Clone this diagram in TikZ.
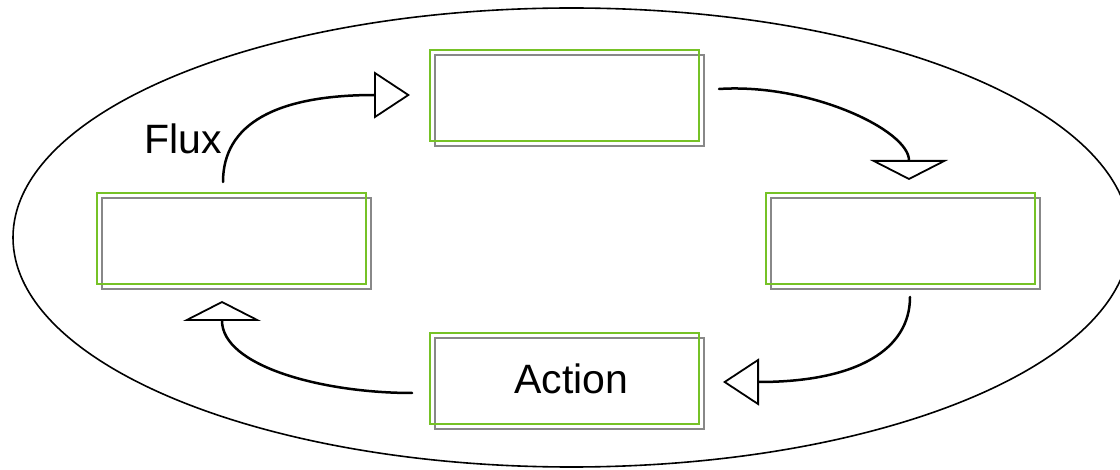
\documentclass[tikz,border=0pt]{standalone}
\usepackage{fontspec}
\setmainfont{Liberation Sans}
\usetikzlibrary{arrows.meta,calc}
\definecolor{boxgreen}{RGB}{118,194,38}
\definecolor{boxgray}{RGB}{136,136,136}
\tikzset{
  framebase/.style={line width=1.8pt, minimum width=269pt, minimum height=91pt, inner sep=0pt},
  stepbox/.style={framebase, draw=boxgreen},
  stepshadow/.style={framebase, draw=boxgray},
  bigtext/.style={font=\fontsize{41}{49}\selectfont, inner sep=0pt},
  flow/.style={line width=2.5pt, line cap=round},
  sidehead/.style={-{Triangle[open, length=36pt, width=47pt, line width=1.8pt]}},
  vertheadd/.style={-{Triangle[open, length=20pt, width=78pt, line width=1.8pt]}},
}
\begin{document}
\begin{tikzpicture}[x=1pt, y=-1pt]
  \useasboundingbox (0,0) rectangle (1120,470);
  \clip (0,0) rectangle (1120,470);

  % surrounding cycle
  \draw[line width=1.6pt] (571.5,237.5) ellipse [x radius=558.5pt, y radius=229.5pt];

  % offset grey frames behind the steps
  \node[stepshadow] (topS)    at (569.5,100.5) {};
  \node[stepshadow] (leftS)   at (236.5,243.5) {};
  \node[stepshadow] (rightS)  at (905.5,243.5) {};
  \node[stepshadow] (bottomS) at (569.5,383.5) {};

  % the four steps
  \node[stepbox] (top)    at (564.5,95.5)  {};
  \node[stepbox] (left)   at (231.5,238.5) {};
  \node[stepbox] (right)  at (900.5,238.5) {};
  \node[stepbox, label={[bigtext, xshift=7pt]center:Action}] (bottom) at (564.5,378.5) {};

  \node[bigtext, anchor=base west] (flux) at (144,154) {Flux};

  % connector end points
  \coordinate (a1s) at (223,182);
  \coordinate (a1e) at (410,95);
  \coordinate (a2s) at (719,89);
  \coordinate (a2e) at (909,180);
  \coordinate (a3s) at (910,297);
  \coordinate (a3e) at (723,382);
  \coordinate (a4s) at (412,393);
  \coordinate (a4e) at (222,301);

  % curved flow arrows
  \draw[flow, sidehead] (a1s) .. controls ($(a1s)+(0,-58)$) and (276,95) .. (a1e);
  \draw[flow, vertheadd] (a2s) .. controls ($(a2s)+(90,-6)$) and ($(a2e)+(0,-50)$) .. (a2e);
  \draw[flow, sidehead] (a3s) .. controls ($(a3s)+(0,52)$) and (858,382) .. (a3e);
  \draw[flow, vertheadd] (a4s) .. controls ($(a4s)+(-90,0)$) and ($(a4e)+(0,65)$) .. (a4e);
\end{tikzpicture}
\end{document}
